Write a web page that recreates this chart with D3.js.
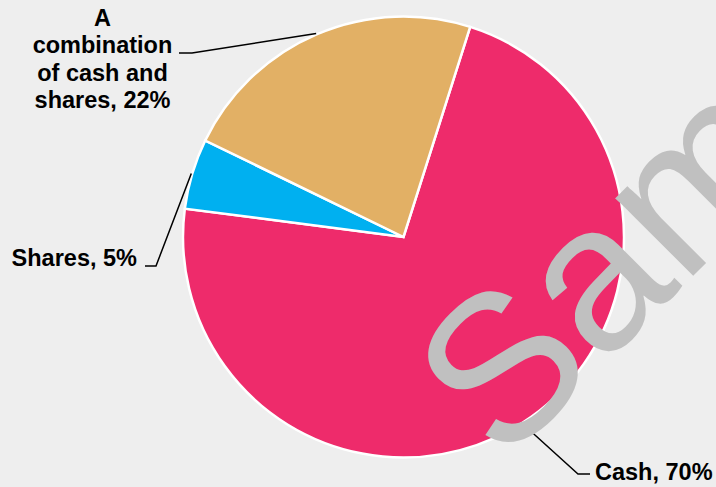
<!DOCTYPE html>
<html>
<head>
<meta charset="utf-8">
<script src="https://cdn.jsdelivr.net/npm/d3@7"></script>
<style>
  html, body { margin: 0; padding: 0; background: #eeeeee; }
  svg { display: block; }
  text { font-family: "Liberation Sans", Arial, sans-serif; }
</style>
</head>
<body>
<svg id="chart" width="716" height="487"></svg>
<script>
// Survey answers: how the payment was taken
const categories = ["Cash", "Shares", "A combination of cash and shares"];
const values = [70, 5, 22];
const colors = ["#ee2b6b", "#00b0f0", "#e2b065"];
// Label text lines for each slice
const labelLines = [
  ["Cash, 70%"],
  ["Shares, 5%"],
  ["A", "combination", "of cash and", "shares, 22%"]
];

const W = 716, H = 487;
const cx = 403.5, cy = 237, R = 220.5;

const svg = d3.select("#chart");
svg.append("rect").attr("width", W).attr("height", H).attr("fill", "#eeeeee");

const pie = d3.pie()
  .sort(null)
  .value(d => d)
  .startAngle(17.6 * Math.PI / 180)
  .endAngle(17.6 * Math.PI / 180 + 2 * Math.PI);

const arcs = pie(values);
const arc = d3.arc().innerRadius(0).outerRadius(R);

const g = svg.append("g").attr("transform", `translate(${cx},${cy})`);

g.selectAll("path.slice")
  .data(arcs)
  .join("path")
  .attr("class", "slice")
  .attr("d", arc)
  .attr("fill", (d, i) => colors[i])
  .attr("stroke", "#ffffff")
  .attr("stroke-width", 2.5)
  .attr("stroke-linejoin", "miter");

// Label layout: where each label block sits and where its leader bends
const labelLayout = [
  { x: 595, y: 480, anchor: "start", elbow: [578, 474], end: [590, 474] },
  { x: 137, y: 266, anchor: "end", elbow: [156, 266], end: [145, 266] },
  { x: 102.5, y: 26, anchor: "middle", elbow: [192, 53], end: [179, 53], lh: 27.3 }
];

// Leader lines from slice edge to label
const leaders = svg.append("g");
arcs.forEach((d, i) => {
  const a = (d.startAngle + d.endAngle) / 2;
  const rr = R + 1;
  const px = cx + rr * Math.sin(a);
  const py = cy - rr * Math.cos(a);
  const L = labelLayout[i];
  leaders.append("polyline")
    .attr("points", [[px, py], L.elbow, L.end].map(p => p.join(",")).join(" "))
    .attr("fill", "none")
    .attr("stroke", "#000000")
    .attr("stroke-width", 1.5);
});

// Slice labels
const labels = svg.append("g");
labelLines.forEach((lines, i) => {
  const L = labelLayout[i];
  const t = labels.append("text")
    .attr("x", L.x)
    .attr("y", L.y)
    .attr("text-anchor", L.anchor)
    .attr("font-size", 23.5)
    .attr("font-weight", "bold")
    .attr("fill", "#000000");
  lines.forEach((line, j) => {
    t.append("tspan")
      .attr("x", L.x)
      .attr("y", L.y + j * (L.lh || 0))
      .text(line);
  });
});

// Watermark
svg.append("text")
  .attr("transform", "translate(503,466) rotate(-45)")
  .attr("font-size", 208)
  .attr("fill", "#c0c0c0")
  .text("Sample");
</script>
</body>
</html>
